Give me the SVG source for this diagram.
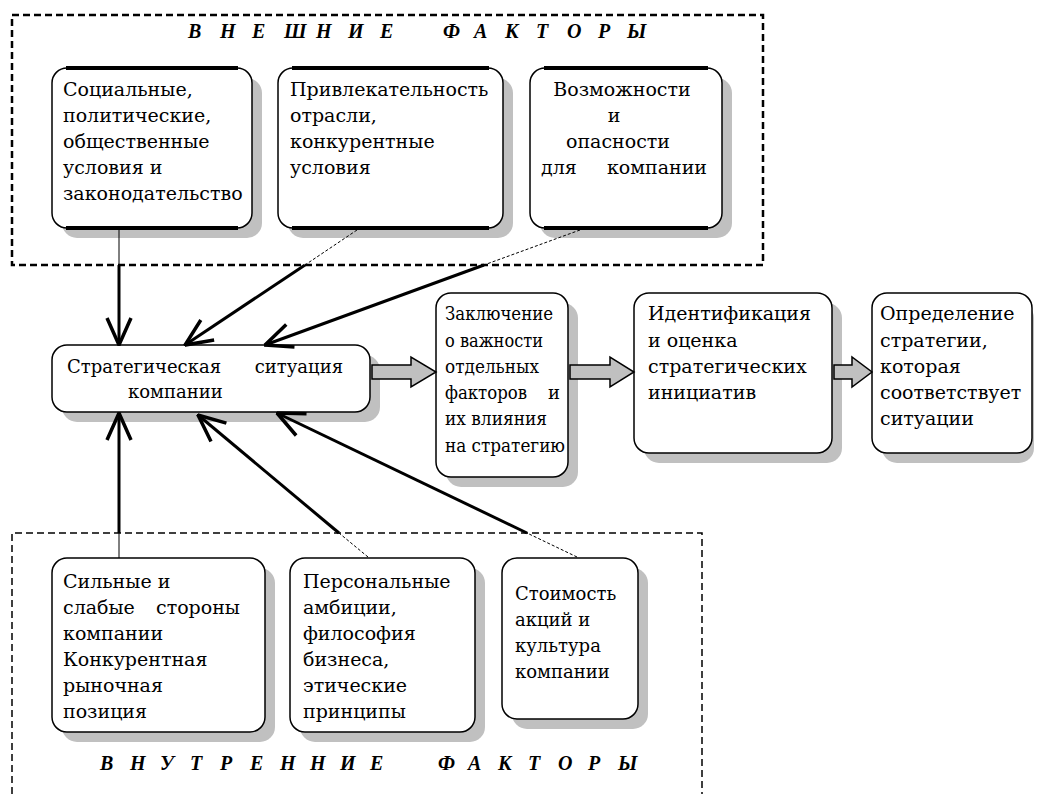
<svg xmlns="http://www.w3.org/2000/svg" width="1037" height="794" viewBox="0 0 1037 794">
<style>
.sh{fill:#c0c0c0}
.bx{fill:#fff;stroke:#000;stroke-width:1.5}
.tk{stroke:#000;stroke-width:4}
.t{font-family:"DejaVu Serif","Liberation Serif",serif;font-size:19px;fill:#000}
.s18{font-size:18px}
.ttl{font-family:"Liberation Serif",serif;font-size:20px;font-weight:bold;font-style:italic;fill:#000}
.dash1{fill:none;stroke:#000;stroke-width:2.5;stroke-dasharray:7 4}
.dash2{fill:none;stroke:#000;stroke-width:1.5;stroke-dasharray:7 4}
.thin{fill:none;stroke:#000;stroke-width:1}
.dot{fill:none;stroke:#000;stroke-width:1;stroke-dasharray:3 2}
.thick{fill:none;stroke:#000;stroke-width:3;marker-end:url(#v)}
.fat{fill:#c0c0c0;stroke:#000;stroke-width:1.5}
</style>
<defs>
<marker id="v" markerUnits="userSpaceOnUse" viewBox="0 0 30 28" refX="29" refY="14" markerWidth="30" markerHeight="28" orient="auto">
<path d="M2,2 L29,14 L2,26" fill="none" stroke="#000" stroke-width="3.5"/>
</marker>
</defs>
<rect width="1037" height="794" fill="#fff"/>
<g id="external-frame">
<path class="dash1" d="M12,15 H763 V265 H12 Z"/>
<text class="ttl" x="188 220 252 284 316 348 380" y="38">ВНЕШНИЕ</text>
<text class="ttl" x="443 474 505 536 567 598 627" y="38">ФАКТОРЫ</text>
</g>
<g id="internal-frame">
<path class="dash2" d="M12,794 V533 H702 V794"/>
<text class="ttl" x="100 130 160 190 220 250 280 310 340 370" y="770">ВНУТРЕННИЕ</text>
<text class="ttl" x="438 468 498 528 558 588 618" y="770">ФАКТОРЫ</text>
</g>
<g id="n-social">
<rect class="sh" x="62" y="78" width="200" height="160" rx="15"/>
<rect class="bx" x="52" y="68" width="200" height="160" rx="15"/>
<path class="tk" d="M66,68 H238 M66,228 H238"/>
<text class="t" x="63" y="96">Социальные,</text>
<text class="t" x="63" y="122">политические,</text>
<text class="t" x="63" y="148">общественные</text>
<text class="t" x="63" y="174">условия и</text>
<text class="t" x="63" y="200">законодательство</text>
</g>
<g id="n-industry">
<rect class="sh" x="288" y="78" width="225" height="160" rx="15"/>
<rect class="bx" x="278" y="68" width="225" height="160" rx="15"/>
<path class="tk" d="M292,68 H489 M292,228 H489"/>
<text class="t" x="290" y="96">Привлекательность</text>
<text class="t" x="290" y="122">отрасли,</text>
<text class="t" x="290" y="148">конкурентные</text>
<text class="t" x="290" y="174">условия</text>
</g>
<g id="n-opportunities">
<rect class="sh" x="540" y="78" width="192" height="160" rx="15"/>
<rect class="bx" x="530" y="68" width="192" height="160" rx="15"/>
<path class="tk" d="M544,68 H708 M544,228 H708"/>
<text class="t" x="622" y="96" text-anchor="middle">Возможности</text>
<text class="t" x="614" y="122" text-anchor="middle">и</text>
<text class="t" x="618" y="148" text-anchor="middle">опасности</text>
<text class="t" x="541" y="174">для</text>
<text class="t" x="707" y="174" text-anchor="end">компании</text>
</g>
<g id="n-situation">
<rect class="sh" x="62" y="355" width="318" height="67" rx="15"/>
<rect class="bx" x="52" y="345" width="318" height="67" rx="15"/>
<text class="t s18" x="67" y="373">Стратегическая</text>
<text class="t s18" x="343" y="373" text-anchor="end">ситуация</text>
<text class="t s18" x="128" y="398">компании</text>
</g>
<g id="n-conclusion">
<rect class="sh" x="446" y="303" width="132" height="184" rx="15"/>
<rect class="bx" x="436" y="293" width="132" height="184" rx="15"/>
<text class="t s18" x="445" y="320" textLength="108" lengthAdjust="spacingAndGlyphs">Заключение</text>
<text class="t s18" x="445" y="347" textLength="98" lengthAdjust="spacingAndGlyphs">о важности</text>
<text class="t s18" x="445" y="373" textLength="94" lengthAdjust="spacingAndGlyphs">отдельных</text>
<text class="t s18" x="445" y="399" textLength="82" lengthAdjust="spacingAndGlyphs">факторов</text>
<text class="t s18" x="560" y="399" text-anchor="end">и</text>
<text class="t s18" x="445" y="425" textLength="102" lengthAdjust="spacingAndGlyphs">их влияния</text>
<text class="t s18" x="445" y="452" textLength="120" lengthAdjust="spacingAndGlyphs">на стратегию</text>
</g>
<g id="n-identification">
<rect class="sh" x="644" y="303" width="198" height="160" rx="15"/>
<rect class="bx" x="634" y="293" width="198" height="160" rx="15"/>
<text class="t" x="648" y="320">Идентификация</text>
<text class="t" x="648" y="347">и  оценка</text>
<text class="t" x="648" y="373">стратегических</text>
<text class="t" x="648" y="399">инициатив</text>
</g>
<g id="n-strategy">
<rect class="sh" x="882" y="303" width="152" height="160" rx="15"/>
<rect class="bx" x="872" y="293" width="160" height="160" rx="15"/>
<text class="t" x="880" y="320">Определение</text>
<text class="t" x="880" y="347">стратегии,</text>
<text class="t" x="880" y="373">которая</text>
<text class="t" x="880" y="399">соответствует</text>
<text class="t" x="880" y="425">ситуации</text>
</g>
<g id="n-strengths">
<rect class="sh" x="62" y="568" width="213" height="174" rx="15"/>
<rect class="bx" x="52" y="558" width="213" height="174" rx="15"/>
<text class="t" x="63" y="588">Сильные  и</text>
<text class="t" x="63" y="614">слабые</text>
<text class="t" x="240" y="614" text-anchor="end">стороны</text>
<text class="t" x="63" y="640">компании</text>
<text class="t" x="63" y="666">Конкурентная</text>
<text class="t" x="63" y="692">рыночная</text>
<text class="t" x="63" y="718">позиция</text>
</g>
<g id="n-personal">
<rect class="sh" x="300" y="568" width="185" height="174" rx="15"/>
<rect class="bx" x="290" y="558" width="185" height="174" rx="15"/>
<text class="t" x="303" y="588">Персональные</text>
<text class="t" x="303" y="614">амбиции,</text>
<text class="t" x="303" y="640">философия</text>
<text class="t" x="303" y="666">бизнеса,</text>
<text class="t" x="303" y="692">этические</text>
<text class="t" x="303" y="718">принципы</text>
</g>
<g id="n-value">
<rect class="sh" x="512" y="568" width="136" height="161" rx="15"/>
<rect class="bx" x="502" y="558" width="136" height="161" rx="15"/>
<text class="t s18" x="515" y="600">Стоимость</text>
<text class="t s18" x="515" y="626">акций  и</text>
<text class="t s18" x="515" y="652">культура</text>
<text class="t s18" x="515" y="678">компании</text>
</g>
<g id="connectors">
<line class="thin" x1="119" y1="228" x2="119" y2="265"/>
<line class="thick" x1="119" y1="265" x2="119" y2="345"/>
<line class="dot" x1="357" y1="230" x2="305" y2="265"/>
<line class="thick" x1="305" y1="265" x2="185" y2="345"/>
<line class="dot" x1="580" y1="230" x2="484" y2="265"/>
<line class="thick" x1="484" y1="265" x2="265" y2="345"/>
<line class="thin" x1="119" y1="558" x2="119" y2="533"/>
<line class="thick" x1="119" y1="533" x2="119" y2="413"/>
<line class="dot" x1="368" y1="557" x2="339" y2="533"/>
<line class="thick" x1="339" y1="533" x2="198" y2="415"/>
<line class="dot" x1="577" y1="557" x2="527" y2="533"/>
<line class="thick" x1="527" y1="533" x2="277" y2="413"/>
<path class="fat" d="M372,365 H411 V357 L436,372 L411,387 V379 H372 Z"/>
<path class="fat" d="M570,365 H610 V357 L634,372 L610,387 V379 H570 Z"/>
<path class="fat" d="M834,365 H852 V357 L872,372 L852,387 V379 H834 Z"/>
</g>
</svg>
